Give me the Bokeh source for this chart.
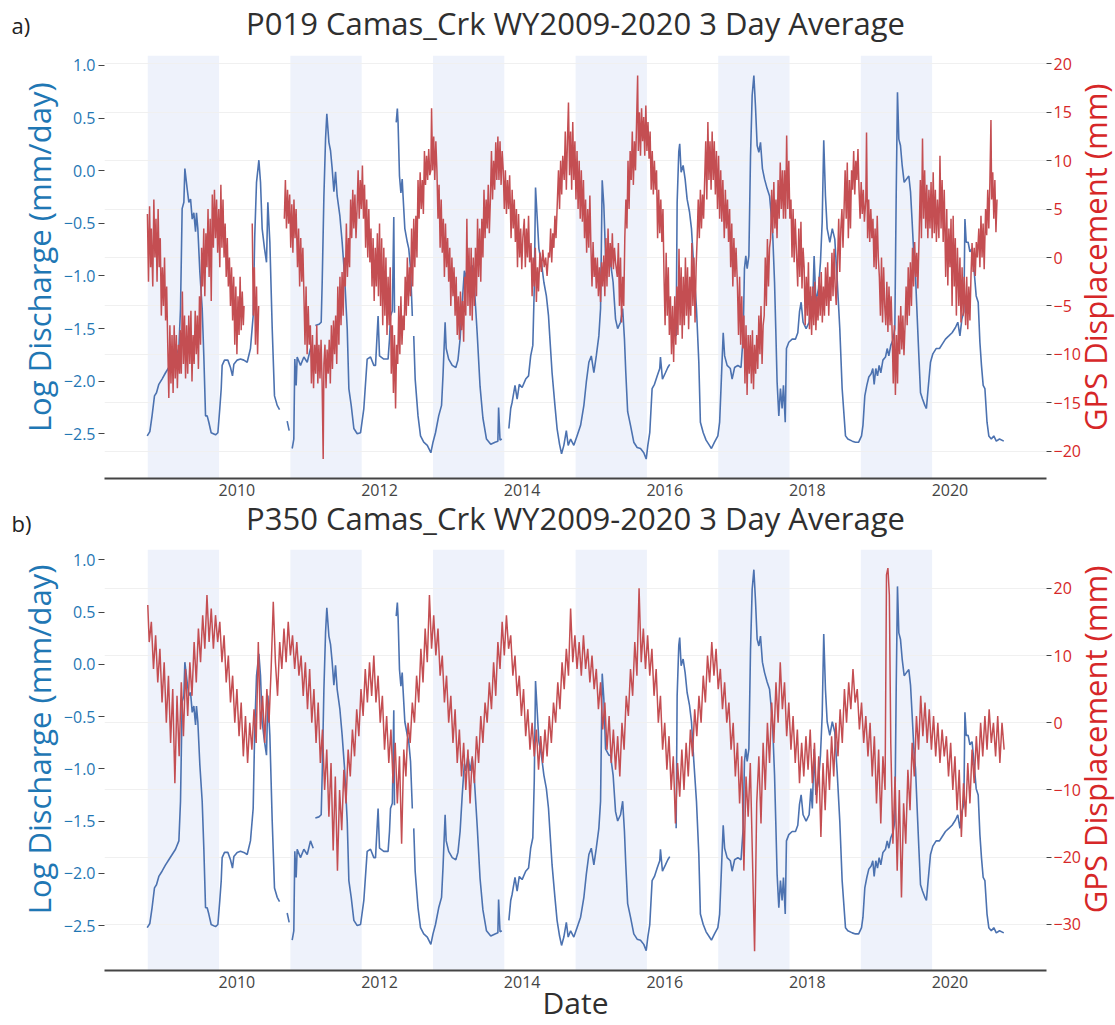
import math
from bokeh.plotting import figure
from bokeh.models import (Range1d, LinearAxis, FixedTicker, BoxAnnotation, Grid,
                          CustomJSTickFormatter)
from bokeh.core.properties import value
from bokeh.layouts import column, row
from bokeh.embed import file_html
from bokeh.resources import INLINE

nan = float("nan")

TITLE_A = "P019 Camas_Crk WY2009-2020 3 Day Average"
TITLE_B = "P350 Camas_Crk WY2009-2020 3 Day Average"
PANEL_A = "a)"
PANEL_B = "b)"
Y_LEFT_TITLE = "Log Discharge (mm/day)"
Y_RIGHT_TITLE = "GPS Displacement (mm)"
X_TITLE = "Date"

# water years shaded (start of WY, decimal year)
wy_shaded_start = [2008.75, 2010.75, 2012.75, 2014.75, 2016.75, 2018.75]
x_ticks = [2010, 2012, 2014, 2016, 2018, 2020]
q_ticks = [-2.5, -2.0, -1.5, -1.0, -0.5, 0.0, 0.5, 1.0]
gps_a_ticks = [-20, -15, -10, -5, 0, 5, 10, 15, 20]
gps_b_ticks = [-30, -20, -10, 0, 10, 20]

# log discharge (mm/day), (decimal year, value); nan = data gap
discharge = [
(2008.742,-2.52),(2008.779,-2.48),(2008.81,-2.33),(2008.844,-2.14),(2008.872,-2.11),(2008.905,-2.03),
(2008.95,-1.98),(2008.999,-1.92),(2009.045,-1.87),(2009.092,-1.82),(2009.139,-1.77),(2009.186,-1.69),
(2009.209,-1.31),(2009.232,-0.36),(2009.256,-0.30),(2009.27,0.02),(2009.302,-0.17),(2009.326,-0.30),
(2009.35,-0.27),(2009.373,-0.46),(2009.396,-0.40),(2009.42,-0.58),(2009.433,-0.40),(2009.452,-0.55),
(2009.48,-0.96),(2009.513,-1.31),(2009.536,-1.76),(2009.56,-2.33),(2009.583,-2.33),(2009.606,-2.39),
(2009.639,-2.49),(2009.70,-2.51),(2009.733,-2.49),(2009.76,-2.26),(2009.78,-2.07),(2009.793,-1.85),
(2009.826,-1.80),(2009.873,-1.80),(2009.91,-1.87),(2009.938,-1.95),(2009.957,-1.84),(2010.004,-1.80),
(2010.05,-1.79),(2010.097,-1.80),(2010.144,-1.82),(2010.19,-1.69),(2010.228,-1.38),(2010.25,-0.62),
(2010.275,-0.11),(2010.308,0.10),(2010.331,-0.11),(2010.354,-0.55),(2010.387,-0.74),(2010.415,-0.87),
(2010.434,-0.30),(2010.462,-0.68),(2010.495,-1.50),(2010.527,-2.14),(2010.565,-2.23),(2010.598,-2.27),
(2010.60,nan),(2010.705,-2.38),(2010.733,-2.47),(2010.75,nan),(2010.775,-2.64),(2010.798,-2.55),
(2010.812,-1.79),(2010.831,-2.04),(2010.845,-1.77),(2010.892,-1.85),(2010.939,-1.77),(2010.986,-1.82),
(2011.032,-1.69),(2011.07,-1.76),(2011.08,nan),(2011.10,-1.47),(2011.15,-1.46),(2011.182,-1.44),
(2011.196,-1.06),(2011.22,-0.24),(2011.243,0.30),(2011.261,0.54),(2011.29,0.27),(2011.313,0.19),
(2011.336,0.02),(2011.36,-0.20),(2011.383,-0.01),(2011.406,-0.24),(2011.444,-0.43),(2011.476,-0.68),
(2011.51,-1.0),(2011.547,-1.50),(2011.57,-2.07),(2011.603,-2.23),(2011.64,-2.45),(2011.687,-2.50),
(2011.734,-2.49),(2011.78,-2.26),(2011.827,-1.79),(2011.874,-1.77),(2011.92,-1.85),(2011.944,-1.85),
(2011.98,-1.38),(2012.0,-1.76),(2012.06,-1.79),(2012.12,-1.79),(2012.14,-1.60),(2012.154,-1.38),
(2012.18,-1.33),(2012.20,-0.44),(2012.21,-1.35),(2012.22,nan),(2012.234,0.46),(2012.25,0.59),
(2012.26,0.46),(2012.28,-0.05),(2012.30,-0.21),(2012.318,-0.08),(2012.33,-0.24),(2012.355,-0.55),
(2012.39,-0.68),(2012.41,-0.74),(2012.435,-0.93),(2012.46,-1.38),(2012.47,nan),(2012.48,-1.57),
(2012.50,-1.98),(2012.54,-2.33),(2012.575,-2.52),(2012.62,-2.58),(2012.67,-2.61),(2012.72,-2.68),
(2012.75,-2.58),(2012.785,-2.49),(2012.83,-2.33),(2012.87,-2.23),(2012.89,-1.95),(2012.92,-1.44),
(2012.935,-1.69),(2012.97,-1.79),(2013.02,-1.85),(2013.07,-1.87),(2013.10,-1.80),(2013.13,-1.60),
(2013.16,-1.25),(2013.19,-0.95),(2013.21,-1.02),(2013.24,-0.88),(2013.27,-1.02),(2013.30,-0.90),
(2013.33,-1.10),(2013.37,-1.55),(2013.41,-2.05),(2013.45,-2.35),(2013.50,-2.55),(2013.56,-2.60),
(2013.62,-2.58),(2013.66,-2.57),(2013.67,-2.25),(2013.69,-2.56),(2013.715,-2.55),(2013.76,nan),
(2013.814,-2.45),(2013.84,-2.26),(2013.86,-2.20),(2013.90,-2.04),(2013.93,-2.17),(2013.96,-2.03),
(2014.00,-2.06),(2014.05,-1.98),(2014.09,-1.95),(2014.12,-1.76),(2014.15,-1.66),(2014.17,-1.12),
(2014.188,-0.16),(2014.21,-0.43),(2014.235,-0.74),(2014.27,-0.87),(2014.305,-1.06),(2014.34,-1.19),
(2014.37,-1.38),(2014.39,-1.60),(2014.42,-1.92),(2014.46,-2.23),(2014.49,-2.45),(2014.525,-2.60),
(2014.553,-2.69),(2014.585,-2.61),(2014.62,-2.47),(2014.646,-2.61),(2014.68,-2.55),(2014.725,-2.61),
(2014.77,-2.52),(2014.82,-2.42),(2014.866,-2.23),(2014.90,-2.01),(2014.936,-1.82),(2014.97,-1.76),
(2015.006,-1.92),(2015.04,-1.76),(2015.076,-1.57),(2015.10,-1.31),(2015.123,-0.09),(2015.146,-0.33),
(2015.17,-0.81),(2015.217,-0.87),(2015.239,-0.87),(2015.276,-1.06),(2015.31,-1.41),(2015.34,-1.50),
(2015.38,-1.44),(2015.41,-1.31),(2015.435,-1.60),(2015.454,-1.92),(2015.48,-2.29),(2015.52,-2.42),
(2015.566,-2.58),(2015.613,-2.63),(2015.66,-2.64),(2015.706,-2.68),(2015.74,-2.74),(2015.763,-2.61),
(2015.79,-2.49),(2015.823,-2.07),(2015.856,-2.03),(2015.894,-1.95),(2015.93,-1.88),(2015.94,-1.77),
(2015.968,-1.98),(2016.01,-1.92),(2016.043,-1.87),(2016.07,-1.84),(2016.08,nan),(2016.16,-1.57),
(2016.174,-0.30),(2016.197,0.18),(2016.21,0.255),(2016.23,-0.014),(2016.258,0.05),(2016.286,-0.08),
(2016.314,-0.27),(2016.347,-0.39),(2016.375,-0.55),(2016.408,-0.93),(2016.445,-1.31),(2016.478,-1.82),
(2016.50,-2.39),(2016.54,-2.49),(2016.58,-2.56),(2016.627,-2.61),(2016.655,-2.64),(2016.698,-2.58),
(2016.745,-2.52),(2016.77,-2.39),(2016.796,-1.95),(2016.82,-1.54),(2016.84,-1.76),(2016.875,-1.85),
(2016.92,-1.88),(2016.945,-1.98),(2016.98,-1.87),(2017.025,-1.85),(2017.07,-1.87),(2017.10,-1.57),
(2017.118,-0.93),(2017.137,-0.81),(2017.156,-0.93),(2017.18,-0.81),(2017.203,0.14),(2017.226,0.715),
(2017.25,0.905),(2017.272,0.62),(2017.296,0.24),(2017.32,0.175),(2017.343,0.27),(2017.37,0.02),
(2017.40,-0.08),(2017.436,-0.17),(2017.47,-0.24),(2017.49,-0.39),(2017.515,-0.62),(2017.54,-1.06),
(2017.557,-1.50),(2017.576,-2.01),(2017.60,-2.33),(2017.623,-2.07),(2017.646,-2.26),(2017.665,-2.04),
(2017.69,-2.39),(2017.707,-1.69),(2017.74,-1.63),(2017.787,-1.60),(2017.834,-1.60),(2017.866,-1.54),
(2017.89,-1.34),(2017.913,-1.25),(2017.94,-1.44),(2017.983,-1.50),(2018.025,-1.44),(2018.05,-1.19),
(2018.07,-1.38),(2018.095,-0.81),(2018.12,-1.25),(2018.156,-1.12),(2018.184,-0.87),(2018.208,-0.49),
(2018.23,0.29),(2018.254,-0.24),(2018.278,-0.55),(2018.315,-0.68),(2018.35,-0.55),(2018.385,-0.65),
(2018.418,-1.03),(2018.455,-1.50),(2018.488,-2.07),(2018.535,-2.52),(2018.568,-2.55),(2018.63,-2.57),
(2018.675,-2.58),(2018.72,-2.58),(2018.76,-2.52),(2018.78,-2.42),(2018.806,-2.14),(2018.834,-2.04),
(2018.862,-1.96),(2018.895,-1.93),(2018.918,-1.88),(2018.937,-2.03),(2018.96,-1.88),(2018.984,-1.95),
(2019.007,-1.85),(2019.03,-1.92),(2019.06,-1.80),(2019.096,-1.77),(2019.12,-1.69),(2019.143,-1.76),
(2019.17,-1.66),(2019.20,-1.61),(2019.227,-1.50),(2019.246,-0.24),(2019.264,0.745),(2019.283,0.30),
(2019.306,0.24),(2019.33,0.05),(2019.358,-0.11),(2019.39,-0.08),(2019.423,-0.05),(2019.447,-0.20),
(2019.47,-0.49),(2019.494,-0.81),(2019.517,-1.0),(2019.54,-1.38),(2019.564,-1.76),(2019.587,-2.11),
(2019.615,-2.17),(2019.648,-2.23),(2019.67,-2.26),(2019.694,-2.07),(2019.727,-1.82),(2019.76,-1.74),
(2019.806,-1.69),(2019.853,-1.69),(2019.89,-1.65),(2019.937,-1.60),(2019.984,-1.57),(2020.03,-1.54),
(2020.077,-1.49),(2020.11,-1.44),(2020.14,-1.57),(2020.167,-1.41),(2020.195,-1.34),(2020.21,-0.46),
(2020.228,-0.68),(2020.255,-0.68),(2020.28,-0.77),(2020.31,-0.74),(2020.34,-0.96),(2020.368,-1.19),
(2020.396,-1.25),(2020.42,-1.63),(2020.442,-1.85),(2020.466,-2.04),(2020.49,-2.07),(2020.52,-2.39),
(2020.545,-2.52),(2020.58,-2.55),(2020.615,-2.52),(2020.65,-2.57),(2020.695,-2.55),(2020.755,-2.57),
]

# GPS displacement P019 (mm)
gps_a = [
(2008.745,4.5),(2008.76,-2.5),(2008.775,5.3),(2008.79,-1),(2008.80,3),(2008.82,-3),(2008.835,6),(2008.85,0),
(2008.865,4),(2008.88,-2.5),(2008.895,5),(2008.91,-1),(2008.925,2),(2008.94,-6),(2008.955,-1),(2008.97,-5),
(2008.985,0),(2009.0,-6.5),(2009.015,-3),(2009.03,-9),(2009.045,-14.5),(2009.06,-7),(2009.075,-13),(2009.09,-8),
(2009.105,-14),(2009.12,-7),(2009.135,-12.5),(2009.15,-8),(2009.165,-13.5),(2009.18,-9),(2009.195,-12),(2009.205,-7.5),
(2009.22,-12),(2009.235,-3.5),(2009.25,-11),(2009.265,-6),(2009.28,-12.5),(2009.295,-7),(2009.31,-12),(2009.325,-6),
(2009.34,-11),(2009.355,-5.5),(2009.37,-12.8),(2009.385,-8),(2009.40,-11),(2009.415,-5.5),(2009.43,-10),(2009.445,-6),
(2009.46,-11.5),(2009.475,-4),(2009.49,-9),(2009.505,1),(2009.52,-3),(2009.535,3),(2009.55,-4),(2009.565,2.5),
(2009.58,-1),(2009.595,5),(2009.61,-2),(2009.625,4),(2009.64,-4.5),(2009.655,6.5),(2009.67,1),(2009.685,7),
(2009.70,2),(2009.715,6),(2009.73,0.5),(2009.745,5),(2009.76,-1),(2009.775,7.5),(2009.79,1),(2009.805,6),
(2009.82,0),(2009.835,3.5),(2009.85,-2),(2009.865,2),(2009.88,-3),(2009.895,0),(2009.91,-5),(2009.925,-1),
(2009.94,-6.5),(2009.955,-2),(2009.97,-9),(2009.985,-3),(2010.0,-10),(2010.015,-4),(2010.03,-8),(2010.045,-2),
(2010.06,-7.5),(2010.075,-3.5),(2010.09,-7),(2010.10,-5),(2010.15,nan),
(2010.215,3.5),(2010.23,-6),(2010.245,-1),(2010.26,-9),(2010.275,-3),(2010.29,-10),(2010.305,-5),(2010.4,nan),
(2010.665,4),(2010.68,8),(2010.695,3),(2010.71,7),(2010.725,3.5),(2010.74,6.5),(2010.755,1),(2010.77,5.5),
(2010.785,0.5),(2010.80,6),(2010.815,2),(2010.83,5),(2010.85,-1),(2010.865,3),(2010.88,-3),(2010.895,2),
(2010.91,-2.5),(2010.925,1),(2010.94,-4),(2010.955,-9),(2010.97,-3),(2010.985,-10),(2011.0,-5),(2011.015,-9),
(2011.03,-7),(2011.045,-13),(2011.06,-8),(2011.075,-13.5),(2011.09,-9),(2011.105,-12),(2011.12,-7),(2011.135,-13),
(2011.15,-9),(2011.165,-12.5),(2011.18,-8.5),(2011.195,-13),(2011.21,-20.8),(2011.22,-11),(2011.235,-9),(2011.25,-13.5),
(2011.265,-9.5),(2011.28,-12),(2011.295,-8.5),(2011.31,-13),(2011.325,-7),(2011.34,-11.5),(2011.355,-6.5),(2011.37,-10),
(2011.385,-6),(2011.40,-11),(2011.415,-3),(2011.43,-9),(2011.445,-2),(2011.46,-7),(2011.475,-1.5),(2011.49,-6),
(2011.505,0),(2011.52,-3),(2011.535,3.5),(2011.55,-2),(2011.565,2),(2011.58,-1),(2011.595,6),(2011.61,2),
(2011.625,7),(2011.64,3),(2011.655,6.5),(2011.67,2),(2011.685,5),(2011.70,9),(2011.715,4),(2011.73,8),
(2011.745,5),(2011.76,9.5),(2011.775,4),(2011.79,7.5),(2011.805,1),(2011.82,6),(2011.835,0),(2011.85,5),
(2011.865,-0.5),(2011.88,3),(2011.895,-3),(2011.91,2),(2011.925,-4.5),(2011.94,1),(2011.955,-3),(2011.97,2.5),
(2011.985,-4),(2012.0,3.5),(2012.015,-5),(2012.03,2),(2012.045,-7),(2012.06,1),(2012.075,-6),(2012.09,0),
(2012.105,-8),(2012.12,-2),(2012.135,-7),(2012.15,-1),(2012.165,-12),(2012.18,-7),(2012.195,-14),(2012.21,-8),
(2012.225,-15.6),(2012.24,-9),(2012.255,-11),(2012.27,-5),(2012.285,-10),(2012.30,-4),(2012.315,-9),(2012.33,-6),
(2012.345,-7.5),(2012.36,-2),(2012.375,-6),(2012.39,0),(2012.405,-5),(2012.42,-1),(2012.435,-4),(2012.45,3),
(2012.465,-3),(2012.48,4),(2012.495,-1),(2012.51,4.3),(2012.525,0),(2012.54,8),(2012.555,4),(2012.57,8.8),
(2012.585,5),(2012.60,8),(2012.615,4.5),(2012.63,11),(2012.645,7.5),(2012.66,10.5),(2012.675,8),(2012.69,11.2),
(2012.705,8.5),(2012.72,9),(2012.73,15.4),(2012.745,9),(2012.76,12.5),(2012.775,8),(2012.79,12),(2012.805,9),
(2012.82,4),(2012.835,7.5),(2012.85,1),(2012.865,6),(2012.88,0.5),(2012.895,4),(2012.91,-2),(2012.925,3.5),
(2012.94,-1),(2012.955,2),(2012.97,-2.5),(2012.985,1),(2013.0,-5),(2013.015,0),(2013.03,-4),(2013.045,-1),
(2013.06,-6),(2013.075,-2),(2013.09,-8),(2013.105,-4),(2013.12,-8.5),(2013.135,-3.5),(2013.15,-7.5),(2013.165,-4.5),
(2013.18,-8.7),(2013.195,-2),(2013.21,-6),(2013.225,4),(2013.24,-5),(2013.255,1),(2013.27,-6),(2013.285,1),
(2013.30,-6.5),(2013.315,0),(2013.33,-5),(2013.345,1),(2013.36,-4),(2013.375,4),(2013.39,-2),(2013.405,3),
(2013.42,-2.5),(2013.435,4),(2013.45,0),(2013.465,7),(2013.48,2),(2013.495,6),(2013.51,3),(2013.525,7.5),
(2013.54,2.5),(2013.555,6),(2013.57,11),(2013.585,6),(2013.60,10),(2013.615,7),(2013.63,11.9),(2013.645,8),
(2013.66,12.5),(2013.675,8),(2013.69,12),(2013.705,7.5),(2013.72,11),(2013.735,9),(2013.75,5),(2013.765,9),
(2013.78,4.5),(2013.795,8),(2013.81,5),(2013.825,8.5),(2013.845,2),(2013.86,7),(2013.875,3),(2013.89,6),
(2013.905,1.6),(2013.92,5),(2013.935,-1),(2013.95,4.5),(2013.965,0),(2013.98,3),(2013.995,-1.2),(2014.01,2),
(2014.03,4),(2014.045,-1),(2014.06,3),(2014.075,0),(2014.09,4.3),(2014.105,-0.5),(2014.125,1.5),(2014.14,-4),
(2014.155,0),(2014.17,-3),(2014.185,1),(2014.20,-4.6),(2014.215,-1),(2014.23,-3.5),(2014.25,0.5),(2014.27,-1.5),
(2014.29,0.8),(2014.31,-1),(2014.33,0),(2014.35,-1.9),(2014.37,0.5),(2014.385,0),(2014.40,3),(2014.415,-0.5),
(2014.43,2.5),(2014.445,1),(2014.46,4.3),(2014.475,2),(2014.495,6),(2014.51,9),(2014.525,5),(2014.54,10),
(2014.555,6.5),(2014.57,10.5),(2014.59,8),(2014.605,13),(2014.62,7),(2014.635,12),(2014.65,16),(2014.665,8.5),
(2014.68,13),(2014.695,7),(2014.71,14),(2014.725,8),(2014.74,12),(2014.755,6),(2014.77,11),(2014.785,5),
(2014.80,10),(2014.815,4),(2014.83,9),(2014.845,3.7),(2014.86,8),(2014.875,2),(2014.89,6),(2014.905,0.5),
(2014.92,5),(2014.935,1),(2014.95,6.4),(2014.965,1),(2014.98,-3),(2014.995,1.6),(2015.01,-2),(2015.025,0),
(2015.04,-3.2),(2015.055,0),(2015.07,-4),(2015.085,-1),(2015.10,-4.6),(2015.115,-0.5),(2015.13,-3),(2015.145,0.2),
(2015.16,-4),(2015.175,2),(2015.19,-3),(2015.205,3),(2015.22,-2),(2015.235,1.5),(2015.25,-1),(2015.265,2.5),
(2015.28,-1.2),(2015.295,1),(2015.31,-0.5),(2015.335,-2),(2015.35,1.5),(2015.365,-5),(2015.38,0),(2015.395,-6.7),
(2015.41,-2),(2015.425,-5),(2015.44,2),(2015.455,6),(2015.47,3),(2015.485,10),(2015.50,5),(2015.515,11),
(2015.53,8),(2015.545,13),(2015.56,7.5),(2015.575,12),(2015.59,9),(2015.605,14),(2015.62,18.8),(2015.63,11),
(2015.645,15),(2015.66,10.5),(2015.675,15.4),(2015.69,12),(2015.705,14.5),(2015.72,10.5),(2015.735,15.7),(2015.75,11),
(2015.765,14),(2015.78,10.2),(2015.795,13),(2015.81,7),(2015.825,11),(2015.84,6.5),(2015.855,10),(2015.87,7),
(2015.885,9),(2015.90,2),(2015.915,7),(2015.93,2.5),(2015.945,6),(2015.96,1.6),(2015.975,5),(2015.99,-2),
(2016.005,-7),(2016.02,0.5),(2016.035,-6),(2016.05,-1),(2016.065,-8),(2016.08,-4),(2016.095,-10),(2016.11,-5),
(2016.125,-10.8),(2016.14,-4),(2016.155,-9),(2016.17,-3),(2016.185,-8),(2016.20,0.9),(2016.215,-7),(2016.23,-1),
(2016.245,-8.4),(2016.26,-2),(2016.275,-7),(2016.29,0),(2016.305,-6),(2016.32,-1),(2016.335,-7.4),(2016.35,-2),
(2016.365,-6),(2016.38,1.5),(2016.395,-5),(2016.41,0),(2016.425,-6.7),(2016.44,-1),(2016.455,2),(2016.47,6),
(2016.485,2),(2016.50,7),(2016.515,3),(2016.53,6.5),(2016.545,4),(2016.56,8),(2016.575,12),(2016.59,6),
(2016.605,14),(2016.62,8),(2016.635,12),(2016.65,7),(2016.665,13),(2016.68,8),(2016.695,12),(2016.71,6.5),
(2016.725,11),(2016.74,5),(2016.755,10.5),(2016.77,4),(2016.785,9),(2016.80,3.7),(2016.815,8),(2016.835,2),
(2016.85,7),(2016.865,3),(2016.88,6),(2016.895,1.6),(2016.91,5),(2016.925,-1),(2016.94,3.5),(2016.955,-3),
(2016.97,2),(2016.985,-2),(2017.0,1),(2017.02,-3),(2017.035,-8),(2017.05,-2),(2017.065,-9),(2017.08,-4),
(2017.095,-9.4),(2017.11,-6),(2017.125,-13),(2017.14,-7),(2017.155,-14.2),(2017.17,-8),(2017.185,-12),(2017.20,-8),
(2017.215,-13),(2017.23,-7.5),(2017.245,-13.6),(2017.26,-9),(2017.275,-12),(2017.29,-8),(2017.305,-11.5),(2017.32,-6),
(2017.335,-10),(2017.35,-5),(2017.365,-11),(2017.38,-7),(2017.395,-6),(2017.41,0),(2017.425,-5),(2017.44,1.9),
(2017.455,-3),(2017.47,1),(2017.485,2),(2017.50,7),(2017.515,2.5),(2017.53,7.8),(2017.545,3),(2017.56,6),
(2017.575,2),(2017.59,8),(2017.605,4),(2017.62,9.8),(2017.635,5),(2017.65,9),(2017.665,4),(2017.68,9),
(2017.695,4),(2017.71,12.6),(2017.725,5),(2017.74,10),(2017.755,4),(2017.77,6),(2017.785,0),(2017.80,5),
(2017.815,-0.5),(2017.83,4),(2017.845,1),(2017.865,-3),(2017.88,3),(2017.895,-2),(2017.91,3.7),(2017.925,-3.2),
(2017.94,1),(2017.955,-1),(2017.97,-7),(2017.985,-2),(2018.0,-6),(2018.015,-0.5),(2018.03,-7.4),(2018.045,-3),
(2018.06,-8),(2018.075,-3),(2018.09,-7),(2018.105,-2.5),(2018.12,-7.5),(2018.135,-4),(2018.15,-6.5),(2018.165,-2),
(2018.18,-6),(2018.195,-1.5),(2018.21,-6.7),(2018.225,-3),(2018.24,-6),(2018.255,-1),(2018.27,-5),(2018.285,-0.5),
(2018.30,-6),(2018.315,-2),(2018.33,-4.5),(2018.345,0.5),(2018.36,-4),(2018.375,0.9),(2018.39,-3),(2018.405,-4.9),
(2018.425,0),(2018.44,4),(2018.455,-1.5),(2018.47,3),(2018.485,5),(2018.50,1),(2018.515,5),(2018.53,9),
(2018.545,4),(2018.56,9.8),(2018.575,2),(2018.59,8),(2018.605,3),(2018.62,9),(2018.635,7),(2018.65,11),
(2018.665,6.5),(2018.68,10),(2018.695,8),(2018.71,11.2),(2018.725,7),(2018.74,4),(2018.755,7.8),(2018.77,4.5),
(2018.785,7),(2018.80,3.7),(2018.82,6),(2018.83,12.9),(2018.845,2),(2018.86,6),(2018.875,1.6),(2018.89,5),
(2018.905,2),(2018.92,4),(2018.935,-1),(2018.95,3),(2018.965,-1.2),(2018.98,4.3),(2018.995,0),(2019.01,-2),
(2019.025,-6),(2019.04,0),(2019.055,-6.7),(2019.07,-1),(2019.085,-5),(2019.10,-7),(2019.115,-2.5),(2019.13,-7.7),
(2019.145,-3),(2019.16,-7),(2019.175,-4),(2019.19,-8),(2019.205,-13),(2019.22,-7),(2019.235,-14.2),(2019.25,-8),
(2019.265,-13),(2019.28,-6),(2019.295,-10),(2019.31,-5),(2019.325,-9.5),(2019.34,-6),(2019.355,-10.1),(2019.37,-7),
(2019.385,-3),(2019.40,-7),(2019.415,-1),(2019.43,-6),(2019.445,-0.5),(2019.46,-5),(2019.475,1),(2019.49,-3),
(2019.505,1.6),(2019.52,-2),(2019.535,0.5),(2019.55,-3.2),(2019.57,3),(2019.585,8),(2019.60,2),(2019.615,12.3),
(2019.63,4),(2019.645,9),(2019.66,3),(2019.675,7.5),(2019.69,2),(2019.705,7),(2019.72,3),(2019.735,7.8),
(2019.75,2),(2019.765,8.8),(2019.78,2.5),(2019.795,7),(2019.81,1.6),(2019.825,6),(2019.845,2),(2019.86,10.5),
(2019.875,3),(2019.89,8),(2019.905,1.6),(2019.92,7),(2019.94,-2),(2019.955,5),(2019.97,-2.9),(2019.985,3),
(2020.0,-1),(2020.015,4),(2020.03,-5),(2020.045,4.3),(2020.06,-3),(2020.075,2),(2020.09,-6),(2020.105,1),
(2020.125,-5),(2020.14,0),(2020.155,-6.7),(2020.17,-1),(2020.185,-6),(2020.20,-2),(2020.22,-7),(2020.235,-2),
(2020.25,-7.4),(2020.265,-3),(2020.28,-6.5),(2020.295,-1.9),(2020.31,1.5),(2020.325,-1.5),(2020.34,1),(2020.355,-1.9),
(2020.37,1.6),(2020.385,0),(2020.405,3),(2020.42,-1),(2020.435,4.3),(2020.45,0),(2020.465,3.5),(2020.48,-1.2),
(2020.50,5),(2020.515,2.3),(2020.53,7),(2020.545,3),(2020.56,7.8),(2020.575,14.2),(2020.585,6),(2020.60,8.8),
(2020.615,4),(2020.63,8),(2020.645,2.6),(2020.66,6),
]

# GPS displacement P350 (mm)
gps_b = [
(2008.75,17.5),(2008.77,12),(2008.80,15),(2008.83,8),(2008.86,13),(2008.89,6),(2008.92,11),(2008.95,3),
(2008.98,9),(2009.01,0),(2009.04,7),(2009.07,-3),(2009.10,5),(2009.13,-9),(2009.16,4),(2009.19,-5),
(2009.22,6),(2009.25,-2),(2009.28,8),(2009.31,1),(2009.34,9),(2009.37,4),(2009.40,12),(2009.43,6),
(2009.46,14),(2009.49,9),(2009.52,16),(2009.55,11),(2009.58,19),(2009.61,12),(2009.64,17),(2009.67,11),
(2009.70,16),(2009.73,12),(2009.76,15),(2009.79,9),(2009.82,13),(2009.85,6),(2009.88,10),(2009.91,3),
(2009.94,7),(2009.97,0),(2010.00,5),(2010.03,-2),(2010.06,3),(2010.09,-5),(2010.12,1),(2010.15,-6),
(2010.18,0),(2010.21,-4),(2010.24,2),(2010.27,-3),(2010.30,12),(2010.33,-1),(2010.36,4),(2010.39,-3),
(2010.42,5),(2010.45,0),(2010.48,8),(2010.51,18),(2010.54,9),(2010.57,4),(2010.60,12),(2010.63,8),
(2010.66,14),(2010.69,9),(2010.72,15),(2010.75,10),(2010.78,13),(2010.81,8),(2010.84,12),(2010.87,7),
(2010.90,10),(2010.93,4),(2010.96,9),(2010.99,2),(2011.02,8),(2011.05,0),(2011.08,5),(2011.11,-3),
(2011.14,3),(2011.17,-6),(2011.20,-1),(2011.23,-10),(2011.26,-4),(2011.29,-14),(2011.32,-6),(2011.35,-19),
(2011.38,-8),(2011.41,-22),(2011.44,-10),(2011.47,-16),(2011.50,-7),(2011.53,-12),(2011.56,-4),(2011.59,-8),
(2011.62,-1),(2011.65,-5),(2011.68,2),(2011.71,-2),(2011.74,5),(2011.77,1),(2011.80,8),(2011.83,3),
(2011.86,9),(2011.89,4),(2011.92,10),(2011.95,3),(2011.98,7),(2012.01,0),(2012.04,4),(2012.07,-4),
(2012.10,1),(2012.13,-6),(2012.16,-1),(2012.19,-9),(2012.22,-3),(2012.25,-12),(2012.28,-5),(2012.31,-18),
(2012.34,-4),(2012.37,-8),(2012.40,0),(2012.43,-3),(2012.46,3),(2012.49,0),(2012.52,7),(2012.55,3),
(2012.58,11),(2012.61,6),(2012.64,14),(2012.67,9),(2012.70,19),(2012.73,11),(2012.76,16),(2012.79,10),
(2012.82,14),(2012.85,7),(2012.88,10),(2012.91,3),(2012.94,7),(2012.97,0),(2013.00,4),(2013.03,-3),
(2013.06,2),(2013.09,-6),(2013.12,-1),(2013.15,-8),(2013.18,-3),(2013.21,-10),(2013.24,-4),(2013.27,-12),
(2013.30,-5),(2013.33,-9),(2013.36,-2),(2013.39,-6),(2013.42,1),(2013.45,-3),(2013.48,3),(2013.51,0),
(2013.54,6),(2013.57,2),(2013.60,9),(2013.63,4),(2013.66,12),(2013.69,8),(2013.72,15),(2013.75,10),
(2013.78,16),(2013.81,11),(2013.84,13),(2013.87,7),(2013.90,10),(2013.93,4),(2013.96,7),(2013.99,1),
(2014.02,5),(2014.05,-2),(2014.08,2),(2014.11,-4),(2014.14,0),(2014.17,-5),(2014.20,-1),(2014.23,-7),
(2014.26,-2),(2014.29,-6),(2014.32,-1),(2014.35,-5),(2014.38,1),(2014.41,-3),(2014.44,3),(2014.47,0),
(2014.50,6),(2014.53,2),(2014.56,9),(2014.59,5),(2014.62,11),(2014.65,7),(2014.68,17),(2014.71,9),
(2014.74,13),(2014.77,8),(2014.80,12),(2014.83,7),(2014.86,13),(2014.89,8),(2014.92,11),(2014.95,6),
(2014.98,10),(2015.01,5),(2015.04,8),(2015.07,2),(2015.10,6),(2015.13,-1),(2015.16,3),(2015.19,-4),
(2015.22,1),(2015.25,-6),(2015.28,-1),(2015.31,-7),(2015.34,-2),(2015.37,-8),(2015.40,0),(2015.43,-4),
(2015.46,4),(2015.49,1),(2015.52,8),(2015.55,4),(2015.58,12),(2015.61,7),(2015.64,20),(2015.67,9),
(2015.70,14),(2015.73,8),(2015.76,13),(2015.79,7),(2015.82,11),(2015.85,4),(2015.88,8),(2015.91,0),
(2015.94,4),(2015.97,-4),(2016.00,0),(2016.03,-7),(2016.06,-2),(2016.09,-10),(2016.12,-5),(2016.15,-15),
(2016.18,-6),(2016.21,-11),(2016.24,-4),(2016.27,-10),(2016.30,-3),(2016.33,-8),(2016.36,-1),(2016.39,-5),
(2016.42,2),(2016.45,-2),(2016.48,4),(2016.51,0),(2016.54,7),(2016.57,3),(2016.60,10),(2016.63,6),
(2016.66,12),(2016.69,7),(2016.72,11),(2016.75,5),(2016.78,8),(2016.81,2),(2016.84,6),(2016.87,0),
(2016.90,3),(2016.93,-4),(2016.96,0),(2016.99,-8),(2017.02,-3),(2017.05,-12),(2017.08,-5),(2017.11,-22),
(2017.14,-8),(2017.17,-14),(2017.20,-6),(2017.23,-20),(2017.26,-34),(2017.29,-12),(2017.32,-5),(2017.35,-15),
(2017.38,-3),(2017.41,-10),(2017.44,0),(2017.47,-6),(2017.50,3),(2017.53,-3),(2017.56,6),(2017.59,0),
(2017.62,9),(2017.65,2),(2017.68,6),(2017.71,-2),(2017.74,3),(2017.77,-4),(2017.80,1),(2017.83,-6),
(2017.86,-1),(2017.89,-9),(2017.92,-3),(2017.95,-8),(2017.98,-2),(2018.01,-7),(2018.04,-1),(2018.07,-9),
(2018.10,-3),(2018.13,-12),(2018.16,-5),(2018.19,-17),(2018.22,-6),(2018.25,-13),(2018.28,-4),(2018.31,-10),
(2018.34,-2),(2018.37,-8),(2018.40,0),(2018.43,-5),(2018.46,2),(2018.49,-3),(2018.52,5),(2018.55,0),
(2018.58,6),(2018.61,2),(2018.64,8),(2018.67,3),(2018.70,5),(2018.73,-1),(2018.76,3),(2018.79,-3),
(2018.82,1),(2018.85,-5),(2018.88,0),(2018.91,-8),(2018.94,-2),(2018.97,-12),(2019.00,-4),(2019.03,-15),
(2019.06,-5),(2019.09,-10),(2019.11,22),(2019.13,23),(2019.15,19),(2019.17,-3),(2019.20,-18),(2019.23,-8),
(2019.26,-22),(2019.29,-10),(2019.32,-26),(2019.35,-12),(2019.38,-18),(2019.41,-7),(2019.44,-13),(2019.47,-3),
(2019.50,-8),(2019.53,1),(2019.56,-4),(2019.59,4),(2019.62,-2),(2019.65,3),(2019.68,-3),(2019.71,2),
(2019.74,-4),(2019.77,1),(2019.80,-5),(2019.83,0),(2019.86,-6),(2019.89,-1),(2019.92,-5),(2019.95,-2),
(2019.98,-8),(2020.01,-3),(2020.04,-10),(2020.07,-5),(2020.10,-13),(2020.13,-7),(2020.16,-17),(2020.19,-9),
(2020.22,-14),(2020.25,-6),(2020.28,-12),(2020.31,-4),(2020.34,-9),(2020.37,-2),(2020.40,-7),(2020.43,0),
(2020.46,-5),(2020.49,1),(2020.52,-4),(2020.55,2),(2020.58,-3),(2020.61,0),(2020.64,-5),(2020.67,1),
(2020.70,-6),(2020.73,0),(2020.76,-4),
]

FONT = "Open Sans"
BLUE_LINE = "#4c72b0"
RED_LINE = "#c44e52"
BLUE_TXT = "#1f77b4"
RED_TXT = "#d62728"
GREY = "#444444"
TXT_DARK = "#2f2f2f"
SHADE = "#eef2fb"
TICK_FS = "16px"

X_RANGE = (2008.143, 2021.354)

fmt_q = CustomJSTickFormatter(code="return tick.toFixed(1).replace('-', '\u2212');")
fmt_mm = CustomJSTickFormatter(code="return tick.toFixed(0).replace('-', '\u2212');")

FULL_W = 1115
LEFT_STRIP = 60
RIGHT_STRIP = 32
PLOT_W = FULL_W - LEFT_STRIP - RIGHT_STRIP
FRAME_H = 423
PLOT_TOP = 6
SHIFT = 11  # svg text baseline compensation


def text_box(width, height):
    b = figure(width=width, height=height, output_backend="svg", toolbar_location=None,
               x_range=Range1d(0, width), y_range=Range1d(0, height),
               x_axis_location=None, y_axis_location=None,
               min_border=0, min_border_left=0, min_border_right=0,
               min_border_top=0, min_border_bottom=0, outline_line_color=None,
               background_fill_color="white", border_fill_color="white")
    b.grid.visible = False
    return b


def header(title, tag, height, title_base, tag_base):
    h = text_box(FULL_W, height)
    h.text(x=[575], y=[height - (title_base - SHIFT)], text=[title], text_font=value(FONT),
           text_font_size=value("31px"), text_color=TXT_DARK, text_align="center",
           text_baseline="alphabetic")
    h.text(x=[11], y=[height - (tag_base - SHIFT)], text=[tag], text_font=value(FONT),
           text_font_size=value("22px"), text_color="#222222", text_align="left",
           text_baseline="alphabetic")
    return h


def side_title(width, height, text, color, base_x):
    s = text_box(width, height)
    s.text(x=[base_x - SHIFT], y=[height - PLOT_TOP - FRAME_H / 2], text=[text],
           text_font=value(FONT), text_font_size=value("31px"), text_color=color,
           text_align="center", text_baseline="alphabetic", angle=math.pi / 2)
    return s


def make_panel(gps, q_range, gps_range, gps_ticks, height, bottom, show_date):
    p = figure(width=PLOT_W, height=height, output_backend="svg", toolbar_location=None,
               x_range=Range1d(*X_RANGE), y_range=Range1d(*q_range),
               x_axis_location=None, y_axis_location=None,
               min_border_left=104 - LEFT_STRIP, min_border_right=1083 - 1046,
               min_border_top=PLOT_TOP, min_border_bottom=bottom, outline_line_color=None,
               background_fill_color="white", border_fill_color="white")
    p.extra_y_ranges = {"gps": Range1d(*gps_range)}
    p.grid.visible = False

    for s in wy_shaded_start:
        p.add_layout(BoxAnnotation(left=s, right=s + 1, fill_color=SHADE, fill_alpha=1.0,
                                   line_color=None, level="underlay"))

    p.add_layout(Grid(dimension=1, ticker=FixedTicker(ticks=gps_ticks), y_range_name="gps",
                      grid_line_color="#f0f0f0", grid_line_width=1))

    xax = LinearAxis(ticker=FixedTicker(ticks=x_ticks), axis_line_color=GREY, axis_line_width=2,
                     major_tick_out=0, major_tick_in=0, minor_tick_out=0, minor_tick_in=0,
                     major_label_text_font=FONT, major_label_text_font_size=TICK_FS,
                     major_label_text_color=GREY, major_label_standoff=5)
    if show_date:
        xax.axis_label = X_TITLE
        xax.axis_label_text_font = FONT
        xax.axis_label_text_font_size = "30px"
        xax.axis_label_text_font_style = "normal"
        xax.axis_label_text_color = TXT_DARK
        xax.axis_label_standoff = -9
    p.add_layout(xax, "below")

    lax = LinearAxis(ticker=FixedTicker(ticks=q_ticks), formatter=fmt_q, axis_line_color=None,
                     major_tick_out=6, major_tick_in=0, major_tick_line_color=GREY,
                     minor_tick_out=0, minor_tick_in=0,
                     major_label_text_font=FONT, major_label_text_font_size=TICK_FS,
                     major_label_text_color=BLUE_TXT, major_label_standoff=3)
    p.add_layout(lax, "left")

    rax = LinearAxis(y_range_name="gps", ticker=FixedTicker(ticks=gps_ticks), formatter=fmt_mm,
                     axis_line_color=None, major_tick_out=5, major_tick_in=0,
                     major_tick_line_color=GREY, minor_tick_out=0, minor_tick_in=0,
                     major_label_text_font=FONT, major_label_text_font_size=TICK_FS,
                     major_label_text_color=RED_TXT, major_label_standoff=2)
    p.add_layout(rax, "right")

    p.line([d[0] for d in discharge], [d[1] for d in discharge],
           line_color=BLUE_LINE, line_width=1.6)
    p.line([d[0] for d in gps], [d[1] for d in gps],
           line_color=RED_LINE, line_width=1.5, y_range_name="gps")
    return p


HEAD_A, HEAD_B = 49, 38
H_A = 478 - HEAD_A + 27          # frame bottom of panel a at y=478, 27px for tick labels
H_B = 1025 - HEAD_A - H_A - HEAD_B
pa = make_panel(gps_a, (-2.925, 1.095), (-22.82, 20.86), gps_a_ticks, H_A,
                H_A - FRAME_H - PLOT_TOP, False)
pb = make_panel(gps_b, (-2.93, 1.098), (-36.86, 25.77), gps_b_ticks, H_B,
                H_B - FRAME_H - PLOT_TOP, True)

head_a = header(TITLE_A, PANEL_A, HEAD_A, 33.5, 35)
head_b = header(TITLE_B, PANEL_B, HEAD_B, 528.3 - (HEAD_A + H_A), 533.3 - (HEAD_A + H_A))

row_a = row(side_title(LEFT_STRIP, H_A, Y_LEFT_TITLE, BLUE_TXT, 49), pa,
            side_title(RIGHT_STRIP, H_A, Y_RIGHT_TITLE, RED_TXT, 22), spacing=0)
row_b = row(side_title(LEFT_STRIP, H_B, Y_LEFT_TITLE, BLUE_TXT, 49), pb,
            side_title(RIGHT_STRIP, H_B, Y_RIGHT_TITLE, RED_TXT, 22), spacing=0)

layout = column(head_a, row_a, head_b, row_b, spacing=0)
open("out.html", "w").write(file_html(layout, INLINE))
